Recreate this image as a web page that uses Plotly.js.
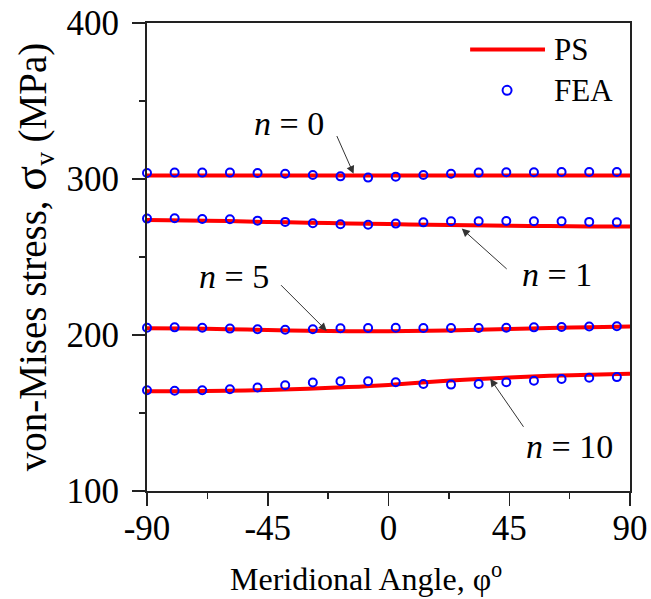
<!DOCTYPE html>
<html>
<head>
<meta charset="utf-8">
<script src="https://cdn.plot.ly/plotly-3.0.1.min.js"></script>
<style>html,body{margin:0;padding:0;background:#fff;}#chart{width:651px;height:599px;}</style>
</head>
<body>
<div id="chart"></div>
<script>
// PS (analytical) curves
const psAngle = [-90,-75,-60,-45,-30,-15,0,15,30,45,60,75,90];
const psN0  = [302.2,302.2,302.2,302.2,302.2,302.2,302.2,302.2,302.2,302.2,302.2,302.2,302.2];
const psN1  = [273.7,273.4,273.0,272.5,272.0,271.5,271.1,270.7,270.3,270.0,269.8,269.6,269.5];
const psN5  = [204.3,204.1,203.7,203.2,202.7,202.4,202.4,202.7,203.2,203.8,204.5,205.0,205.4];
const psN10 = [163.9,164.0,164.3,164.8,165.6,166.6,168.0,169.9,171.5,172.8,173.8,174.5,175.1];

// FEA points
const feaAngle = [-90,-79.7,-69.4,-59.1,-48.8,-38.5,-28.2,-17.9,-7.6,2.7,13.0,23.3,33.6,43.9,54.2,64.5,74.8,85.1];
const feaN0  = [303.9,304.1,304.1,304.1,303.9,303.4,302.6,301.7,300.9,301.5,302.6,303.4,304.1,304.3,304.3,304.5,304.5,304.5];
const feaN1  = [274.6,274.8,274.4,274.2,273.3,272.5,271.6,271.0,270.7,271.4,272.2,272.9,272.9,273.1,272.9,272.9,272.5,272.2];
const feaN5  = [204.7,204.9,204.7,204.1,203.7,203.4,203.7,204.3,204.5,204.7,204.5,204.5,204.5,204.7,204.9,205.1,205.4,205.6];
const feaN10 = [164.6,164.3,164.6,165.2,166.3,167.8,169.5,170.3,170.3,169.7,168.6,168.2,168.6,169.7,170.7,171.8,172.6,173.0];

const xTicks = [-90,-45,0,45,90];
const yTicks = [100,200,300,400];

const FONT = 'Liberation Serif, Times New Roman, serif';
const RED = '#ff0000', BLUE = '#0000ff';

const psSeries = [psN0, psN1, psN5, psN10];
const feaSeries = [feaN0, feaN1, feaN5, feaN10];
const traces = [];
psSeries.forEach((ys) => traces.push({
  x: psAngle, y: ys, type: 'scatter', mode: 'lines', name: 'PS',
  line: {color: RED, width: 4, shape: 'spline'}, showlegend: false, hoverinfo: 'skip'
}));
feaSeries.forEach((ys) => traces.push({
  x: feaAngle, y: ys, type: 'scatter', mode: 'markers', name: 'FEA',
  marker: {symbol: 'circle-open', color: BLUE, size: 8, line: {color: BLUE, width: 2}},
  showlegend: false, hoverinfo: 'skip', cliponaxis: false
}));

const labels = [
  {text: '<i>n</i> = 0', x: -37, y: 335.5},
  {text: '<i>n</i> = 1', x: 62.7, y: 238.9},
  {text: '<i>n</i> = 5', x: -57.5, y: 237.8},
  {text: '<i>n</i> = 10', x: 67.3, y: 128.6}
];
const arrows = [
  {x: -13, y: 303.3, ax: -19.5, ay: 328.5},
  {x: 27.3, y: 268.2, ax: 44.6, ay: 241.5},
  {x: -23, y: 202.6, ax: -40.6, ay: 232.9},
  {x: 37.9, y: 172, ax: 50.7, ay: 140.2}
];
const annotations = [];
labels.forEach(l => annotations.push({
  x: l.x, y: l.y, xref: 'x', yref: 'y', text: l.text, showarrow: false,
  font: {family: FONT, size: 34, color: '#000'}, xanchor: 'center', yanchor: 'middle'
}));
arrows.forEach(a => annotations.push({
  x: a.x, y: a.y, xref: 'x', yref: 'y', ax: a.ax, ay: a.ay, axref: 'x', ayref: 'y',
  text: '', showarrow: true, arrowhead: 2, arrowsize: 1.6, arrowwidth: 1, arrowcolor: '#333'
}));
annotations.push({x: 0.8395, y: 0.9432, xref: 'paper', yref: 'paper', text: 'PS', showarrow: false,
  xanchor: 'left', yanchor: 'middle', font: {family: FONT, size: 31, color: '#000'}});
annotations.push({x: 0.8395, y: 0.8562, xref: 'paper', yref: 'paper', text: 'FEA', showarrow: false,
  xanchor: 'left', yanchor: 'middle', font: {family: FONT, size: 31, color: '#000'}});
// x-axis title (placed slightly left of centre, as in the reference)
annotations.push({x: 0.4538, y: -0.1846, xref: 'paper', yref: 'paper',
  text: 'Meridional Angle, φ<sup>o</sup>', showarrow: false,
  xanchor: 'center', yanchor: 'middle', font: {family: FONT, size: 32, color: '#000'}});

const shapes = [
  {type: 'line', xref: 'paper', yref: 'paper', x0: 0.669, x1: 0.824, y0: 0.9432, y1: 0.9432,
   line: {color: RED, width: 4}},
  {type: 'circle', xref: 'paper', yref: 'paper', x0: 0.7455 - 0.0093, x1: 0.7455 + 0.0093,
   y0: 0.8562 - 0.0096, y1: 0.8562 + 0.0096, line: {color: BLUE, width: 2}}
];

const layout = {
  width: 651, height: 599,
  margin: {l: 147, r: 21, t: 23, b: 108},
  paper_bgcolor: '#fff', plot_bgcolor: '#fff',
  font: {family: FONT, color: '#000'},
  showlegend: false,
  xaxis: {
    range: [-90, 90], tickvals: xTicks, ticktext: xTicks.map(String),
    ticks: 'outside', ticklen: 13, tickwidth: 1.5, tickcolor: '#222',
    minor: {tickvals: [-67.5,-22.5,22.5,67.5], ticks: 'outside', ticklen: 6, tickwidth: 1.5, tickcolor: '#222'},
    showline: true, linecolor: '#222', linewidth: 2, mirror: true,
    showgrid: false, zeroline: false,
    tickfont: {family: FONT, size: 35, color: '#000'},
    ticklabelstandoff: -8
  },
  yaxis: {
    range: [100, 400], tickvals: yTicks, ticktext: yTicks.map(String),
    ticks: 'outside', ticklen: 13, tickwidth: 1.5, tickcolor: '#222',
    minor: {tickvals: [150,250,350], ticks: 'outside', ticklen: 6, tickwidth: 1.5, tickcolor: '#222'},
    showline: true, linecolor: '#222', linewidth: 2, mirror: true,
    showgrid: false, zeroline: false,
    tickfont: {family: FONT, size: 35, color: '#000'},
    ticklabelstandoff: 6,
    title: {text: 'von-Mises stress, <span style="font-size:46px">σ</span><sub>v</sub> (MPa)', font: {family: FONT, size: 39, color: '#000'}, standoff: 8}
  },
  annotations: annotations,
  shapes: shapes
};

Plotly.newPlot('chart', traces, layout, {displayModeBar: false, staticPlot: true});
</script>
</body>
</html>
